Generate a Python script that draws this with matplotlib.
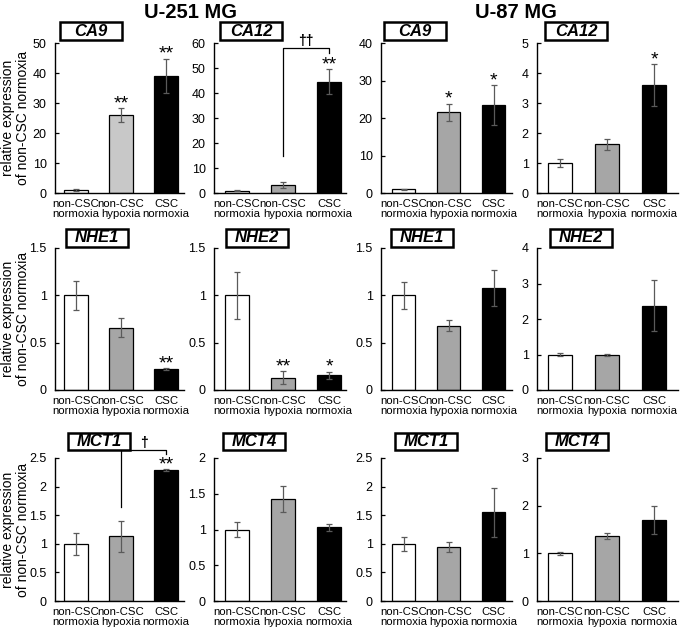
import matplotlib.pyplot as plt
from matplotlib.patches import Rectangle

plt.rcParams['font.family'] = ['Liberation Sans', 'DejaVu Sans']

groups = ["non-CSC\nnormoxia", "non-CSC\nhypoxia", "CSC\nnormoxia"]

u251_ca9 = [1.0, 26.0, 39.0]
u251_ca9_err = [0.3, 2.3, 5.8]
u251_ca12 = [1.0, 3.3, 44.5]
u251_ca12_err = [0.3, 1.2, 5.0]
u87_ca9 = [1.0, 21.5, 23.5]
u87_ca9_err = [0.2, 2.3, 5.3]
u87_ca12 = [1.0, 1.62, 3.6]
u87_ca12_err = [0.13, 0.18, 0.7]

u251_nhe1 = [1.0, 0.66, 0.22]
u251_nhe1_err = [0.15, 0.1, 0.01]
u251_nhe2 = [1.0, 0.13, 0.155]
u251_nhe2_err = [0.25, 0.07, 0.04]
u87_nhe1 = [1.0, 0.68, 1.08]
u87_nhe1_err = [0.14, 0.06, 0.19]
u87_nhe2 = [1.0, 0.98, 2.38]
u87_nhe2_err = [0.05, 0.03, 0.72]

u251_mct1 = [1.0, 1.13, 2.29]
u251_mct1_err = [0.19, 0.27, 0.02]
u251_mct4 = [1.0, 1.43, 1.03]
u251_mct4_err = [0.11, 0.18, 0.05]
u87_mct1 = [1.0, 0.95, 1.55]
u87_mct1_err = [0.12, 0.09, 0.43]
u87_mct4 = [1.0, 1.37, 1.7]
u87_mct4_err = [0.03, 0.06, 0.3]

# gene, means, errors, y max, y step, significance marks
panels = [
    ["CA9", u251_ca9, u251_ca9_err, 50, 10, ["", "**", "**"]],
    ["CA12", u251_ca12, u251_ca12_err, 60, 10, ["", "", "**"]],
    ["CA9", u87_ca9, u87_ca9_err, 40, 10, ["", "*", "*"]],
    ["CA12", u87_ca12, u87_ca12_err, 5, 1, ["", "", "*"]],
    ["NHE1", u251_nhe1, u251_nhe1_err, 1.5, 0.5, ["", "", "**"]],
    ["NHE2", u251_nhe2, u251_nhe2_err, 1.5, 0.5, ["", "**", "*"]],
    ["NHE1", u87_nhe1, u87_nhe1_err, 1.5, 0.5, ["", "", ""]],
    ["NHE2", u87_nhe2, u87_nhe2_err, 4, 1, ["", "", ""]],
    ["MCT1", u251_mct1, u251_mct1_err, 2.5, 0.5, ["", "", "**"]],
    ["MCT4", u251_mct4, u251_mct4_err, 2, 0.5, ["", "", ""]],
    ["MCT1", u87_mct1, u87_mct1_err, 2.5, 0.5, ["", "", ""]],
    ["MCT4", u87_mct4, u87_mct4_err, 3, 1, ["", "", ""]],
]

# brackets: panel index -> (left end, top, right end, label)
brackets = {1: (15, 58, 56, "††"), 8: (1.65, 2.64, 2.57, "†")}

W, H = 685, 632
fig = plt.figure(figsize=(W / 100, H / 100), dpi=100)

col_left = [55, 214, 381, 537]
col_unit = [45, 46, 45, 47]
col_pad = [(0.47, 0.4), (0.5, 0.37), (0.5, 0.4), (0.49, 0.5)]
row_top = [43, 248, 458]
row_bottom = [193, 390, 601]
box_cx = [[91, 251, 415, 576], [97, 257, 422, 581], [99, 254, 426, 577]]
box_cy = [31, 238, 441]

for i, (gene, vals, errs, ymax, step, stars) in enumerate(panels):
    r, c = divmod(i, 4)
    a, b = col_pad[c]
    width_px = (2 + a + b) * col_unit[c]
    ax = fig.add_axes([col_left[c] / W, 1 - row_bottom[r] / H,
                       width_px / W, (row_bottom[r] - row_top[r]) / H])
    colors = ["white", "#a6a6a6", "black"]
    if i == 0:
        colors[1] = "#c8c8c8"
    x = range(3)
    ax.bar(x, vals, width=0.52, color=colors, edgecolor="black", linewidth=0.9)
    ax.errorbar(x, vals, yerr=errs, fmt="none", ecolor="#5a5a5a",
                elinewidth=0.9, capsize=2.5, capthick=0.9)
    ax.set_xlim(-a, 2 + b)
    ax.set_ylim(0, ymax)
    ticks = [k * step for k in range(int(round(ymax / step)) + 1)]
    ax.set_yticks(ticks)
    ax.set_yticklabels(["%g" % t for t in ticks], fontsize=9)
    ax.set_xticks(list(x))
    ax.set_xticklabels(groups, fontsize=8.2, linespacing=1.05)
    ax.tick_params(axis="x", length=0, pad=4)
    ax.tick_params(axis="y", direction="in", length=3, width=0.9, pad=6)
    for s in ["top", "right"]:
        ax.spines[s].set_visible(False)
    for s in ["left", "bottom"]:
        ax.spines[s].set_linewidth(1.0)
    for k, st in enumerate(stars):
        if st:
            ax.annotate(st, (k, vals[k] + errs[k]), xytext=(0, -3),
                        textcoords="offset points", ha="center", va="bottom",
                        fontsize=14, annotation_clip=False)
    if i in brackets:
        yb, yt, yr, lab = brackets[i]
        ax.plot([1, 1, 2, 2], [yb, yt, yt, yr], color="black", lw=0.9,
                clip_on=False)
        ax.text(1.5, yt, lab, ha="center", va="bottom", fontsize=10,
                fontweight="bold")
    # gene name in a box
    bw, bh = 62, 17
    cx, cy = box_cx[r][c], box_cy[r]
    fig.patches.append(Rectangle(((cx - bw / 2) / W, 1 - (cy + bh / 2) / H),
                                 bw / W, bh / H, transform=fig.transFigure,
                                 facecolor="white", edgecolor="black",
                                 linewidth=1.8))
    fig.text(cx / W, 1 - cy / H, gene, ha="center", va="center",
             fontsize=12, fontweight="bold", style="italic")
    if c == 0:
        ax.set_ylabel("relative expression\nof non-CSC normoxia", fontsize=10,
                      linespacing=1.05)
        ax.yaxis.set_label_coords((30 - col_left[c]) / width_px, 0.5)

fig.text(191 / W, 1 - 12 / H, "U-251 MG", ha="center", va="center",
         fontsize=14.5, fontweight="bold")
fig.text(516 / W, 1 - 12 / H, "U-87 MG", ha="center", va="center",
         fontsize=14.5, fontweight="bold")

fig.savefig("out.png", dpi=100)
